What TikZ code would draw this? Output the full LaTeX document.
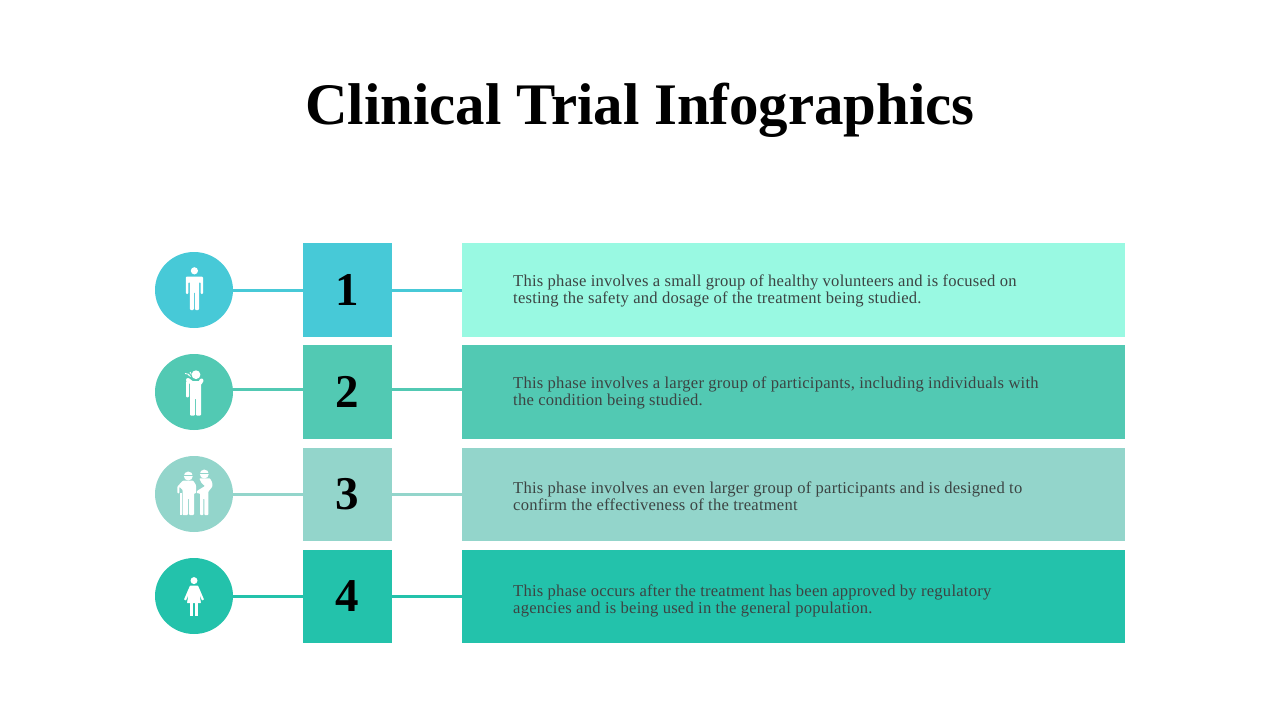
\documentclass[tikz,border=0pt]{standalone}
\usepackage{fontspec}
\setmainfont{Liberation Serif}
\newfontfamily\phasefont[LetterSpace=1.3]{Liberation Serif}
\usetikzlibrary{positioning,shapes.geometric}

\definecolor{tealsky}{HTML}{47C9D7}
\definecolor{tealmid}{HTML}{52C9B3}
\definecolor{tealpale}{HTML}{93D5CB}
\definecolor{tealdeep}{HTML}{23C2AB}
\definecolor{mintbar}{HTML}{99F9E2}
\definecolor{phasegray}{HTML}{3C4443}

\tikzset{
  iconcirc/.style={ellipse, minimum width=78pt, minimum height=76pt, inner sep=0pt},
  numbox/.style={minimum width=89pt, minimum height=#1, inner sep=0pt, font=\fontsize{47}{47}\selectfont\bfseries},
  phasebar/.style={minimum width=663pt, minimum height=#1, inner sep=0pt},
  phasetext/.style={anchor=west, align=left, inner sep=0pt, text=phasegray, font=\phasefont\fontsize{16.6}{17}\selectfont},
  link/.style={line width=3pt},
  man/.pic={
    \fill[white] (0.4,-19.2) circle (3.6);
    \fill[white,rounded corners=1pt] (-8.2,-13.4) -- (9,-13.4) -- (9,4) -- (6.6,4) -- (6.6,-8) -- (5.2,-8) -- (5.2,20) -- (0.9,20) -- (0.9,2) -- (-0.1,2) -- (-0.1,20) -- (-4.2,20) -- (-4.2,-8) -- (-5.6,-8) -- (-5.6,4) -- (-8.2,4) -- cycle;
  },
  coughman/.pic={
    \fill[white] (2,-17.3) circle (4.4);
    \fill[white,rounded corners=1pt] (-4,-10) -- (7,-10) -- (7,23.7) -- (2,23.7) -- (2,6) -- (1,6) -- (1,23.7) -- (-4,23.7) -- cycle;
    \fill[white,rounded corners=1pt] (-8,-11) -- (-5,-11) -- (-5,5.3) -- (-8,5.3) -- cycle;
    \draw[white,line width=4pt,line cap=round,line join=round] (-6,-12) -- (-2,-9) -- (6,-9) -- (7.5,-11.5);
    \draw[white,line width=.8pt] (-6,-17.5) -- (-3.4,-15.5) (-9,-18.5) -- (-4.6,-17.6) (-4,-20) -- (-2.6,-17.6);
  },
  helpers/.pic={
    % old man with the stick
    \fill[white] (-5.7,-18) circle (4.5);
    \draw[tealpale,line width=.7pt] (-10.2,-18.5) -- (-1.2,-18.5);
    \fill[white,rounded corners=.8pt] (-11.3,-13.3) -- (-.7,-13.3) -- (2,-9) -- (2,-.7) -- (0,-.7) -- (0,21) -- (-5,21) -- (-5,4.3) -- (-6,4.3) -- (-6,21) -- (-11.3,21) -- (-11.3,-4) -- (-14.7,-7.3) -- (-14.7,-.7) -- (-16.7,-.7) -- (-16.7,-7.3) -- cycle;
    \fill[white] (-14,-.7) rectangle (-12.3,21);
    % helper on the right
    \fill[white] (10.3,-20) circle (4.5);
    \draw[tealpale,line width=.7pt] (5.8,-20.5) -- (14.8,-20.5);
    \fill[white,rounded corners=.8pt] (5.3,-15.7) -- (16,-15.7) -- (18.3,-11.3) -- (18.3,-7.3) -- (14.3,-2.3) -- (14.3,21) -- (10.3,21) -- (10.3,4.3) -- (9.3,4.3) -- (9.3,21) -- (6,21) -- (6,-.7) -- (2.8,-.7) -- (2.8,-3) -- (11,-8) -- (7.7,-10.7) -- cycle;
  },
  woman/.pic={
    \fill[white] (0,-15.4) circle (3.5);
    \fill[white,rounded corners=.5pt] (-4,-10.4) -- (4,-10.4) -- (10,3.5) -- (8,4.5) -- (5.5,-1.5) -- (7,7) -- (-7,7) -- (-5.5,-1.5) -- (-8,4.5) -- (-10,3.5) -- cycle;
    \fill[white] (-4,6) rectangle (-.6,20);
    \fill[white] (.6,6) rectangle (4,20);
  }
}

\begin{document}
\begin{tikzpicture}[x=1pt, y=-1pt]
  \useasboundingbox (0,0) rectangle (1280,720);

  \node (title) at (640,110) {\fontsize{58.9}{59}\selectfont\bfseries Clinical Trial Infographics};

  \node[iconcirc, fill=tealsky] (circ1) at (194,290) {};
  \node[iconcirc, fill=tealmid] (circ2) at (194,392) {};
  \node[iconcirc, fill=tealpale] (circ3) at (194,494) {};
  \node[iconcirc, fill=tealdeep] (circ4) at (194,596) {};

  \node[numbox=94pt, fill=tealsky] (num1) at (347.5,290) {1};
  \node[numbox=94pt, fill=tealmid] (num2) at (347.5,392) {2};
  \node[numbox=93pt, fill=tealpale] (num3) at (347.5,494.5) {3};
  \node[numbox=93pt, fill=tealdeep] (num4) at (347.5,596.5) {4};

  \node[phasebar=94pt, fill=mintbar] (bar1) at (793.5,290) {};
  \node[phasebar=94pt, fill=tealmid] (bar2) at (793.5,392) {};
  \node[phasebar=93pt, fill=tealpale] (bar3) at (793.5,494.5) {};
  \node[phasebar=93pt, fill=tealdeep] (bar4) at (793.5,596.5) {};

  \coordinate (level2) at (0,389);

  \draw[link, tealsky] (circ1.east) -- (num1.west);
  \draw[link, tealsky] (num1.east) -- (bar1.west);
  \draw[link, tealmid] (circ2.east |- level2) -- (num2.west |- level2);
  \draw[link, tealmid] (num2.east |- level2) -- (bar2.west |- level2);
  \draw[link, tealpale] (circ3.east) -- (num3.west |- circ3.east);
  \draw[link, tealpale] (num3.east |- circ3.east) -- (bar3.west |- circ3.east);
  \draw[link, tealdeep] (circ4.east) -- (num4.west |- circ4.east);
  \draw[link, tealdeep] (num4.east |- circ4.east) -- (bar4.west |- circ4.east);

  \pic at (circ1) {man};
  \pic at (circ2) {coughman};
  \pic at (circ3) {helpers};
  \pic at (circ4) {woman};

  \node[phasetext] (text1) at (513,290.5) {This phase involves a small group of healthy volunteers and is focused on\\testing the safety and dosage of the treatment being studied.};
  \node[phasetext] (text2) at (513,392.5) {This phase involves a larger group of participants, including individuals with\\the condition being studied.};
  \node[phasetext] (text3) at (513,496.5) {This phase involves an even larger group of participants and is designed to\\confirm the effectiveness of the treatment};
  \node[phasetext] (text4) at (513,600.5) {This phase occurs after the treatment has been approved by regulatory\\agencies and is being used in the general population.};
\end{tikzpicture}
\end{document}
